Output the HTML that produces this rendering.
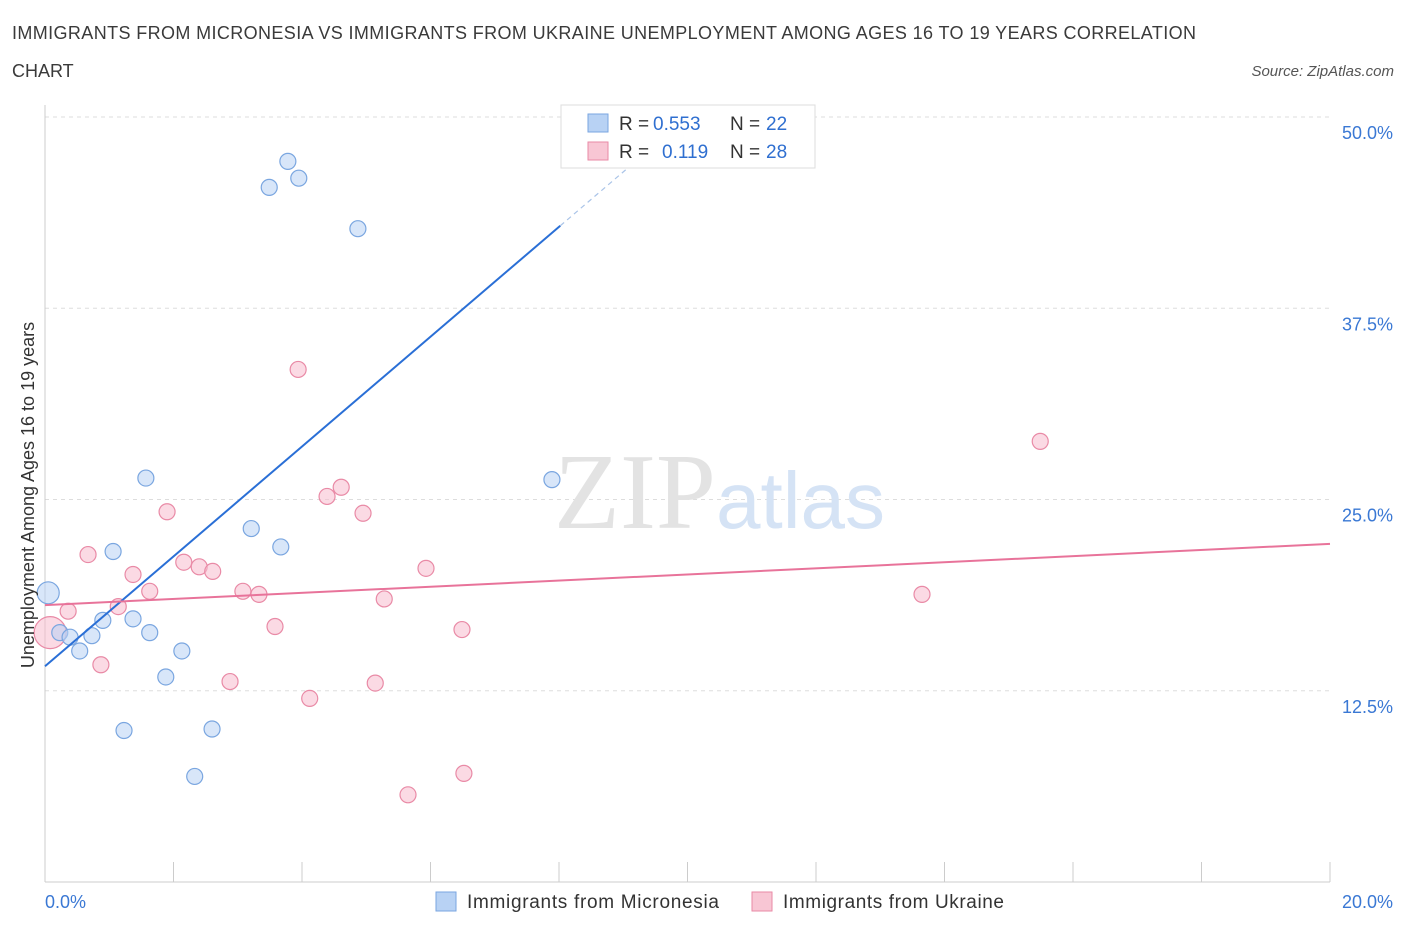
<!DOCTYPE html>
<html><head><meta charset="utf-8"><style>
body{margin:0;background:#fff;font-family:"Liberation Sans",sans-serif}
</style></head><body>
<svg width="1406" height="930" viewBox="0 0 1406 930">
<text x="12" y="39" font-size="18" fill="#3a3a3a" textLength="1184" lengthAdjust="spacing">IMMIGRANTS FROM MICRONESIA VS IMMIGRANTS FROM UKRAINE UNEMPLOYMENT AMONG AGES 16 TO 19 YEARS CORRELATION</text>
<text x="12" y="77" font-size="18" fill="#3a3a3a">CHART</text>
<text x="1394" y="76" font-size="15" fill="#555" font-style="italic" text-anchor="end">Source: ZipAtlas.com</text>
<g id="grid"></g>
<text x="716" y="528" font-size="108" font-family="Liberation Serif,serif" fill="#e3e3e3" text-anchor="end">ZIP</text>
<text x="716" y="528" font-size="80" fill="#d5e3f5">atlas</text>
<g id="marks"></g>
<text transform="translate(34,495) rotate(-90)" font-size="18" fill="#333" text-anchor="middle">Unemployment Among Ages 16 to 19 years</text>
<g>
<rect x="561" y="105" width="254" height="63" fill="#fff" stroke="#ddd"/>
<rect x="588" y="114" width="20" height="18" fill="#b8d2f4" stroke="#7aa6e0"/>
<text x="619" y="130" font-size="19" fill="#333">R =</text>
<text x="653" y="130" font-size="19" fill="#2f6fd0">0.553</text>
<text x="730" y="130" font-size="19" fill="#333">N =</text>
<text x="766" y="130" font-size="19" fill="#2f6fd0">22</text>
<rect x="588" y="142" width="20" height="18" fill="#f8c6d4" stroke="#e98aa6"/>
<text x="619" y="158" font-size="19" fill="#333">R =</text>
<text x="662" y="158" font-size="19" fill="#2f6fd0">0.119</text>
<text x="730" y="158" font-size="19" fill="#333">N =</text>
<text x="766" y="158" font-size="19" fill="#2f6fd0">28</text>
</g>
<g>
<rect x="436" y="892" width="20" height="19" fill="#b8d2f4" stroke="#7aa6e0"/>
<text x="467" y="908" font-size="19" fill="#333" textLength="252">Immigrants from Micronesia</text>
<rect x="752" y="892" width="20" height="19" fill="#f8c6d4" stroke="#e98aa6"/>
<text x="783" y="908" font-size="19" fill="#333" textLength="221">Immigrants from Ukraine</text>
</g>
</svg>
<script>
const yTicks=[12.5,25.0,37.5,50.0];
const xTicks=[0,20];
const blueX=[0.05,0.23,0.39,0.54,0.73,0.9,1.06,1.23,1.37,1.57,1.63,1.88,2.13,2.33,2.6,3.21,3.49,3.67,3.78,3.95,4.87,7.89];
const blueY=[18.9,16.3,16.0,15.1,16.1,17.1,21.6,9.9,17.2,26.4,16.3,13.4,15.1,6.9,10.0,23.1,45.4,21.9,47.1,46.0,42.7,26.3];
const pinkX=[0.08,0.36,0.67,0.87,1.14,1.37,1.63,1.9,2.16,2.4,2.61,2.88,3.08,3.33,3.58,3.94,4.12,4.39,4.61,4.95,5.14,5.28,5.65,5.93,6.49,6.52,13.65,15.49];
const pinkY=[16.3,17.7,21.4,14.2,18.0,20.1,19.0,24.2,20.9,20.6,20.3,13.1,19.0,18.8,16.7,33.5,12.0,25.2,25.8,24.1,13.0,18.5,5.7,20.5,16.5,7.1,18.8,28.8];
const blueTrend=[14.1,3.59];
const pinkTrend=[18.1,0.2];
const X=v=>45+v/20*1285, Y=v=>882-v/50*765;
const NS="http://www.w3.org/2000/svg";
function mk(p,t,a){const e=document.createElementNS(NS,t);for(const k in a)e.setAttribute(k,a[k]);p.appendChild(e);return e;}
const g=document.getElementById('grid'),m=document.getElementById('marks');
yTicks.forEach(t=>{
 const l=mk(g,'line',{x1:45,x2:1330,y1:Y(t),y2:Y(t),stroke:'#ddd','stroke-dasharray':'4,4'});
 
 
 const tx=mk(g,'text',{x:1393,y:Y(t)+22,'font-size':18,fill:'#3a78d4','text-anchor':'end'});
 tx.textContent=t.toFixed(1)+'%';
 
 
});
mk(g,'line',{x1:45,x2:45,y1:105,y2:882,stroke:'#ccc'});
mk(g,'line',{x1:45,x2:1330,y1:882,y2:882,stroke:'#ccc'});
for(let i=0;i<=10;i++){const x=45+i*128.5;mk(g,'line',{x1:x,x2:x,y1:862,y2:882,stroke:'#ccc'});}
xTicks.forEach((t,i)=>{
 const tx=mk(g,'text',{x:i?1393:45,y:908,'font-size':18,fill:'#3a78d4','text-anchor':i?'end':'start'});
 tx.textContent=t.toFixed(1)+'%';
 
 
});
function pts(xs,ys,fill,stroke,name){
 xs.forEach((x,i)=>{
  const c=mk(m,'circle',{cx:X(x),cy:Y(ys[i]),r:i==0?(name=='pink-point'?16:11):8,fill:fill,'fill-opacity':0.55,stroke:stroke,'stroke-width':1.2});
  
  
 });
}
pts(pinkX,pinkY,'#f8bccd','#e98aa6','pink-point');
pts(blueX,blueY,'#b8d2f4','#7aa6e0','blue-point');
const bl=mk(m,'line',{x1:X(0),y1:Y(blueTrend[0]),x2:X(8.02),y2:Y(blueTrend[0]+blueTrend[1]*8.02),stroke:'#2a6fd6','stroke-width':2});


const bd=mk(m,'line',{x1:X(8.02),y1:Y(blueTrend[0]+blueTrend[1]*8.02),x2:X(9.1),y2:Y(blueTrend[0]+blueTrend[1]*9.1),stroke:'#aac4e8','stroke-width':1.2,'stroke-dasharray':'5,4'});


const pl=mk(m,'line',{x1:X(0),y1:Y(pinkTrend[0]),x2:X(20),y2:Y(pinkTrend[0]+pinkTrend[1]*20),stroke:'#e8739a','stroke-width':2});


</script>
</body></html>
